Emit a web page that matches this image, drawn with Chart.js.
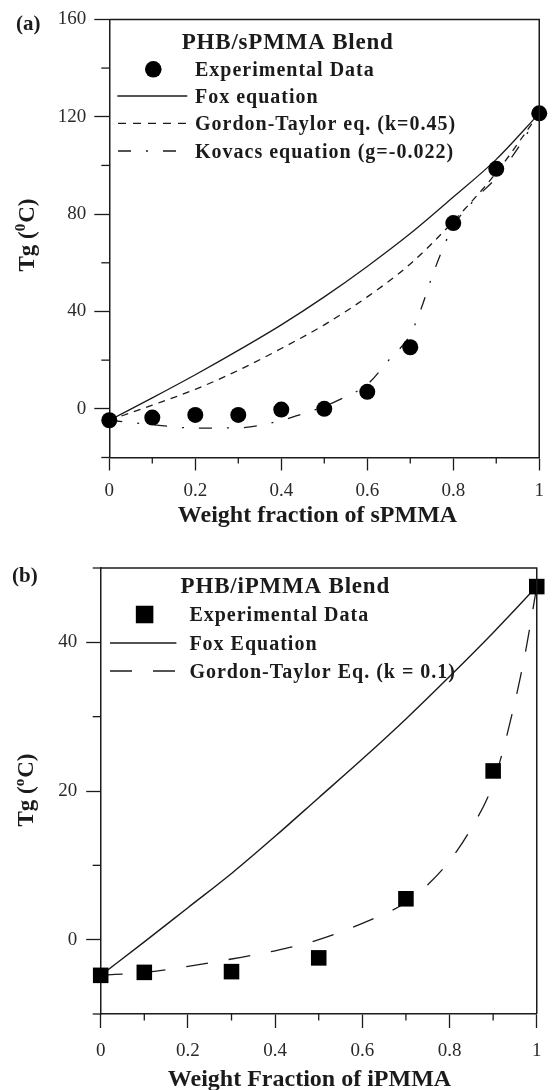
<!DOCTYPE html>
<html>
<head>
<meta charset="utf-8">
<script src="https://cdn.jsdelivr.net/npm/chart.js@4.4.1/dist/chart.umd.min.js"></script>
<style>
    html, body { margin: 0; padding: 0; background: #fff; }
    #wrap { position: relative; width: 553px; height: 1090px; overflow: hidden; }
    canvas { position: absolute; left: 0; }
    #chartA { top: 0; }
    #chartB { top: 540px; }
</style>
</head>
<body>
<div id="wrap">
    <canvas id="chartA" width="553" height="540"></canvas>
    <canvas id="chartB" width="553" height="550"></canvas>
</div>
<script>
// --- Panel (a): PHB/sPMMA blend ---
const sExpW = [0, 0.1, 0.2, 0.3, 0.4, 0.5, 0.6, 0.7, 0.8, 0.9, 1];
const sExpTg = [-4.7, -3.6, -2.5, -2.5, -0.3, 0, 7, 25.3, 76.3, 98.6, 121.4];
const sFitW = [0, 0.1, 0.2, 0.3, 0.4, 0.5, 0.6, 0.7, 0.8, 0.9, 1];
const sFoxTg = [-4.7, 4.5, 14, 24, 34.5, 46, 58.5, 72, 87, 102.5, 121.4];
const sGordonTg = [-4.7, 1.5, 8, 15.8, 24.8, 34.5, 46, 59.5, 77, 97, 121.4];
const sKovacsW = [0, 0.1, 0.2, 0.3, 0.4, 0.45, 0.5, 0.55, 0.6, 0.65, 0.7, 0.725, 0.75, 0.775, 0.8, 0.85, 0.9, 0.95, 1];
const sKovacsTg = [-4.7, -6.5, -7.9, -7.8, -4.8, -2, 1, 5, 10, 20, 30.5, 41, 54, 65.5, 75, 86, 95, 107, 121.4];

// --- Panel (b): PHB/iPMMA blend ---
const iExpW = [0, 0.1, 0.3, 0.5, 0.7, 0.9, 1];
const iExpTg = [-4.8, -4.4, -4.3, -2.45, 5.5, 22.7, 47.5];
const iFoxW = [0, 0.1, 0.2, 0.3, 0.4, 0.5, 0.6, 0.7, 0.8, 0.9, 1];
const iFoxTg = [-4.8, -0.3, 4.3, 8.9, 13.9, 19.1, 24.3, 29.7, 35.4, 41.3, 47.5];
const iGordonW = [0, 0.1, 0.2, 0.3, 0.4, 0.5, 0.6, 0.7, 0.75, 0.8, 0.85, 0.9, 0.95, 0.975, 1];
const iGordonTg = [-4.8, -4.4, -3.6, -2.6, -1.5, 0, 2.2, 5, 7.4, 10.6, 15, 21, 32, 39, 47.5];

// tick labels
const sXLabels = ['0', '0.2', '0.4', '0.6', '0.8', '1'];
const sYLabels = ['0', '40', '80', '120', '160'];
const iYLabels = ['0', '20', '40'];

const SERIF = "'Liberation Serif', 'Times New Roman', serif";
const INK = '#1b1b1b';

const toPoints = (xs, ys) => xs.map((x, i) => ({ x: x, y: ys[i] }));
const fmt = (v) => String(Math.round(v * 10) / 10);

// Draws frame, minor ticks, axis titles, panel letter and the boxed-less legend
const makeDecor = (cfg) => ({
    id: 'decor',
    afterDraw(chart) {
        const ctx = chart.ctx;
        const area = chart.chartArea;
        ctx.save();
        ctx.strokeStyle = INK;
        ctx.lineWidth = 1.5;

        // top and right frame
        ctx.beginPath();
        ctx.moveTo(area.left, area.top);
        ctx.lineTo(area.right, area.top);
        ctx.lineTo(area.right, area.bottom);
        ctx.stroke();

        // minor ticks (short ones)
        ctx.lineWidth = 1.3;
        ['x', 'y'].forEach((id) => {
            const scale = chart.scales[id];
            scale.ticks.forEach((t) => {
                if (cfg.labels[id].includes(fmt(t.value))) return;
                const p = scale.getPixelForValue(t.value);
                ctx.beginPath();
                if (id === 'x') {
                    ctx.moveTo(p, area.bottom);
                    ctx.lineTo(p, area.bottom + cfg.minorTick.x);
                } else {
                    ctx.moveTo(area.left, p);
                    ctx.lineTo(area.left - cfg.minorTick.y, p);
                }
                ctx.stroke();
            });
        });

        ctx.fillStyle = INK;
        ctx.textBaseline = 'alphabetic';

        // panel letter
        ctx.font = `bold 21px ${SERIF}`;
        ctx.textAlign = 'left';
        ctx.fillText(cfg.panel, cfg.panelX, cfg.panelY);

        // x title
        ctx.font = `bold 24px ${SERIF}`;
        ctx.textAlign = 'center';
        ctx.fillText(cfg.xTitle, cfg.xTitleX, cfg.xTitleY);

        // y title with superscript, rotated
        ctx.save();
        ctx.translate(cfg.yTitleX, cfg.yTitleY);
        ctx.rotate(-Math.PI / 2);
        ctx.textAlign = 'left';
        const big = `bold 23px ${SERIF}`;
        const small = `bold 15px ${SERIF}`;
        ctx.font = big;
        const w1 = ctx.measureText('Tg (').width;
        const w3 = ctx.measureText('C)').width;
        ctx.font = small;
        const w2 = ctx.measureText(cfg.yTitleSup).width + 1;
        let x = -(w1 + w2 + w3) / 2;
        ctx.font = big;
        ctx.fillText('Tg (', x, 0);
        x += w1;
        ctx.font = small;
        ctx.fillText(cfg.yTitleSup, x, -9);
        x += w2;
        ctx.font = big;
        ctx.fillText('C)', x, 0);
        ctx.restore();

        // legend
        const lg = cfg.legend;
        ctx.textAlign = 'left';
        ctx.letterSpacing = '0.8px';
        ctx.font = `bold 23px ${SERIF}`;
        ctx.fillText(lg.title, lg.titleX, lg.titleY + 7.6);
        ctx.letterSpacing = '1px';
        ctx.font = `bold 20px ${SERIF}`;
        chart.data.datasets.forEach((ds, i) => {
            const row = lg.rows[i];
            ctx.fillStyle = INK;
            ctx.fillText(ds.label, lg.textX, row.y + 6.6);
            if (ds.showLine === false) {
                ctx.fillStyle = ds.backgroundColor;
                Chart.helpers.drawPoint(ctx, {
                    pointStyle: ds.pointStyle, radius: row.r, rotation: 0, borderWidth: 0
                }, row.x1, row.y);
            } else {
                ctx.strokeStyle = ds.borderColor;
                ctx.lineWidth = ds.borderWidth;
                ctx.setLineDash(row.dash || ds.borderDash || []);
                ctx.beginPath();
                ctx.moveTo(row.x1, row.y);
                ctx.lineTo(row.x2, row.y);
                ctx.stroke();
                ctx.setLineDash([]);
            }
        });
        ctx.restore();
    }
});

const makePanel = (canvasId, cfg) => {
    const ctx = document.getElementById(canvasId).getContext('2d');
    new Chart(ctx, {
        type: 'scatter',
        data: { datasets: cfg.datasets },
        options: {
            responsive: false,
            animation: false,
            devicePixelRatio: 1,
            events: [],
            layout: { padding: { top: cfg.padTop, right: 5.3, bottom: 0, left: 0 } },
            plugins: {
                legend: { display: false },
                tooltip: { enabled: false }
            },
            elements: { line: { tension: 0.4 } },
            scales: {
                x: {
                    type: 'linear',
                    min: 0,
                    max: 1,
                    afterFit: (scale) => { scale.height = cfg.xHeight; },
                    border: { color: INK, width: 1.5 },
                    grid: {
                        drawOnChartArea: false,
                        tickLength: cfg.majorTick.x,
                        tickWidth: 1.3,
                        tickColor: (c) => (c.tick && cfg.labels.x.includes(fmt(c.tick.value))) ? INK : 'rgba(0,0,0,0)'
                    },
                    ticks: {
                        stepSize: 0.1,
                        autoSkip: false,
                        maxRotation: 0,
                        padding: cfg.xPad,
                        color: '#2a2a2a',
                        font: { family: SERIF, size: 19 },
                        callback: (v) => cfg.labels.x.includes(fmt(v)) ? fmt(v) : ''
                    }
                },
                y: {
                    type: 'linear',
                    min: cfg.yMin,
                    max: cfg.yMax,
                    afterFit: (scale) => { scale.width = cfg.yWidth; },
                    border: { color: INK, width: 1.5 },
                    grid: {
                        drawOnChartArea: false,
                        tickLength: cfg.majorTick.y,
                        tickWidth: 1.3,
                        tickColor: (c) => (c.tick && cfg.labels.y.includes(fmt(c.tick.value))) ? INK : 'rgba(0,0,0,0)'
                    },
                    ticks: {
                        stepSize: cfg.yStep,
                        autoSkip: false,
                        padding: cfg.yPad,
                        color: '#2a2a2a',
                        font: { family: SERIF, size: 19 },
                        callback: (v) => cfg.labels.y.includes(fmt(v)) ? fmt(v) : ''
                    }
                }
            }
        },
        plugins: [makeDecor(cfg)]
    });
};

const lineSet = (label, xs, ys, dash, extra) => Object.assign({
    label: label,
    data: toPoints(xs, ys),
    showLine: true,
    borderColor: INK,
    borderWidth: 1.3,
    borderDash: dash,
    pointRadius: 0,
    fill: false,
    cubicInterpolationMode: 'monotone'
}, extra || {});

// Panel (a)
makePanel('chartA', {
    datasets: [
        {
            label: 'Experimental Data',
            data: toPoints(sExpW, sExpTg),
            showLine: false,
            pointStyle: 'circle',
            pointRadius: 8,
            borderWidth: 0,
            backgroundColor: '#000',
            clip: false
        },
        lineSet('Fox equation', sFitW, sFoxTg, []),
        lineSet('Gordon-Taylor eq. (k=0.45)', sFitW, sGordonTg, [7, 6]),
        lineSet('Kovacs equation (g=-0.022)', sKovacsW, sKovacsTg, [13, 15, 2, 15])
    ],
    padTop: 19,
    xHeight: 82.5,
    yWidth: 109.3,
    yMin: -20, yMax: 160, yStep: 20,
    labels: { x: sXLabels, y: sYLabels },
    majorTick: { x: 13, y: 15 },
    minorTick: { x: 6, y: 8 },
    xPad: 9, yPad: 8,
    panel: '(a)', panelX: 16, panelY: 30,
    xTitle: 'Weight fraction of sPMMA', xTitleX: 317.5, xTitleY: 522,
    yTitleSup: '0', yTitleX: 34, yTitleY: 235,
    legend: {
        title: 'PHB/sPMMA Blend', titleX: 181.7, titleY: 41.7, textX: 195,
        rows: [
            { y: 69.3, x1: 153.3, r: 8.3 },
            { y: 96, x1: 117.3, x2: 187.3 },
            { y: 123.3, x1: 118, x2: 186, dash: [8, 7] },
            { y: 151, x1: 118, x2: 180 }
        ]
    }
});

// Panel (b)
makePanel('chartB', {
    datasets: [
        {
            label: 'Experimental Data',
            data: toPoints(iExpW, iExpTg),
            showLine: false,
            pointStyle: 'rect',
            pointRadius: 11,
            borderWidth: 0,
            backgroundColor: '#000',
            clip: false
        },
        lineSet('Fox Equation', iFoxW, iFoxTg, [], { borderWidth: 1.4 }),
        lineSet('Gordon-Taylor Eq. (k = 0.1)', iGordonW, iGordonTg, [22, 21])
    ],
    padTop: 28,
    xHeight: 76,
    yWidth: 100.7,
    yMin: -10, yMax: 50, yStep: 10,
    labels: { x: sXLabels, y: iYLabels },
    majorTick: { x: 14, y: 14.5 },
    minorTick: { x: 6.5, y: 8 },
    xPad: 11.5, yPad: 9,
    panel: '(b)', panelX: 12, panelY: 42,
    xTitle: 'Weight Fraction of iPMMA', xTitleX: 309.5, xTitleY: 546,
    yTitleSup: 'o', yTitleX: 32.5, yTitleY: 250,
    legend: {
        title: 'PHB/iPMMA Blend', titleX: 180.6, titleY: 45.1, textX: 189.4,
        rows: [
            { y: 74.5, x1: 144.6, r: 12.4 },
            { y: 103, x1: 110, x2: 176.4 },
            { y: 131, x1: 110, x2: 176.4 }
        ]
    }
});
</script>
</body>
</html>
